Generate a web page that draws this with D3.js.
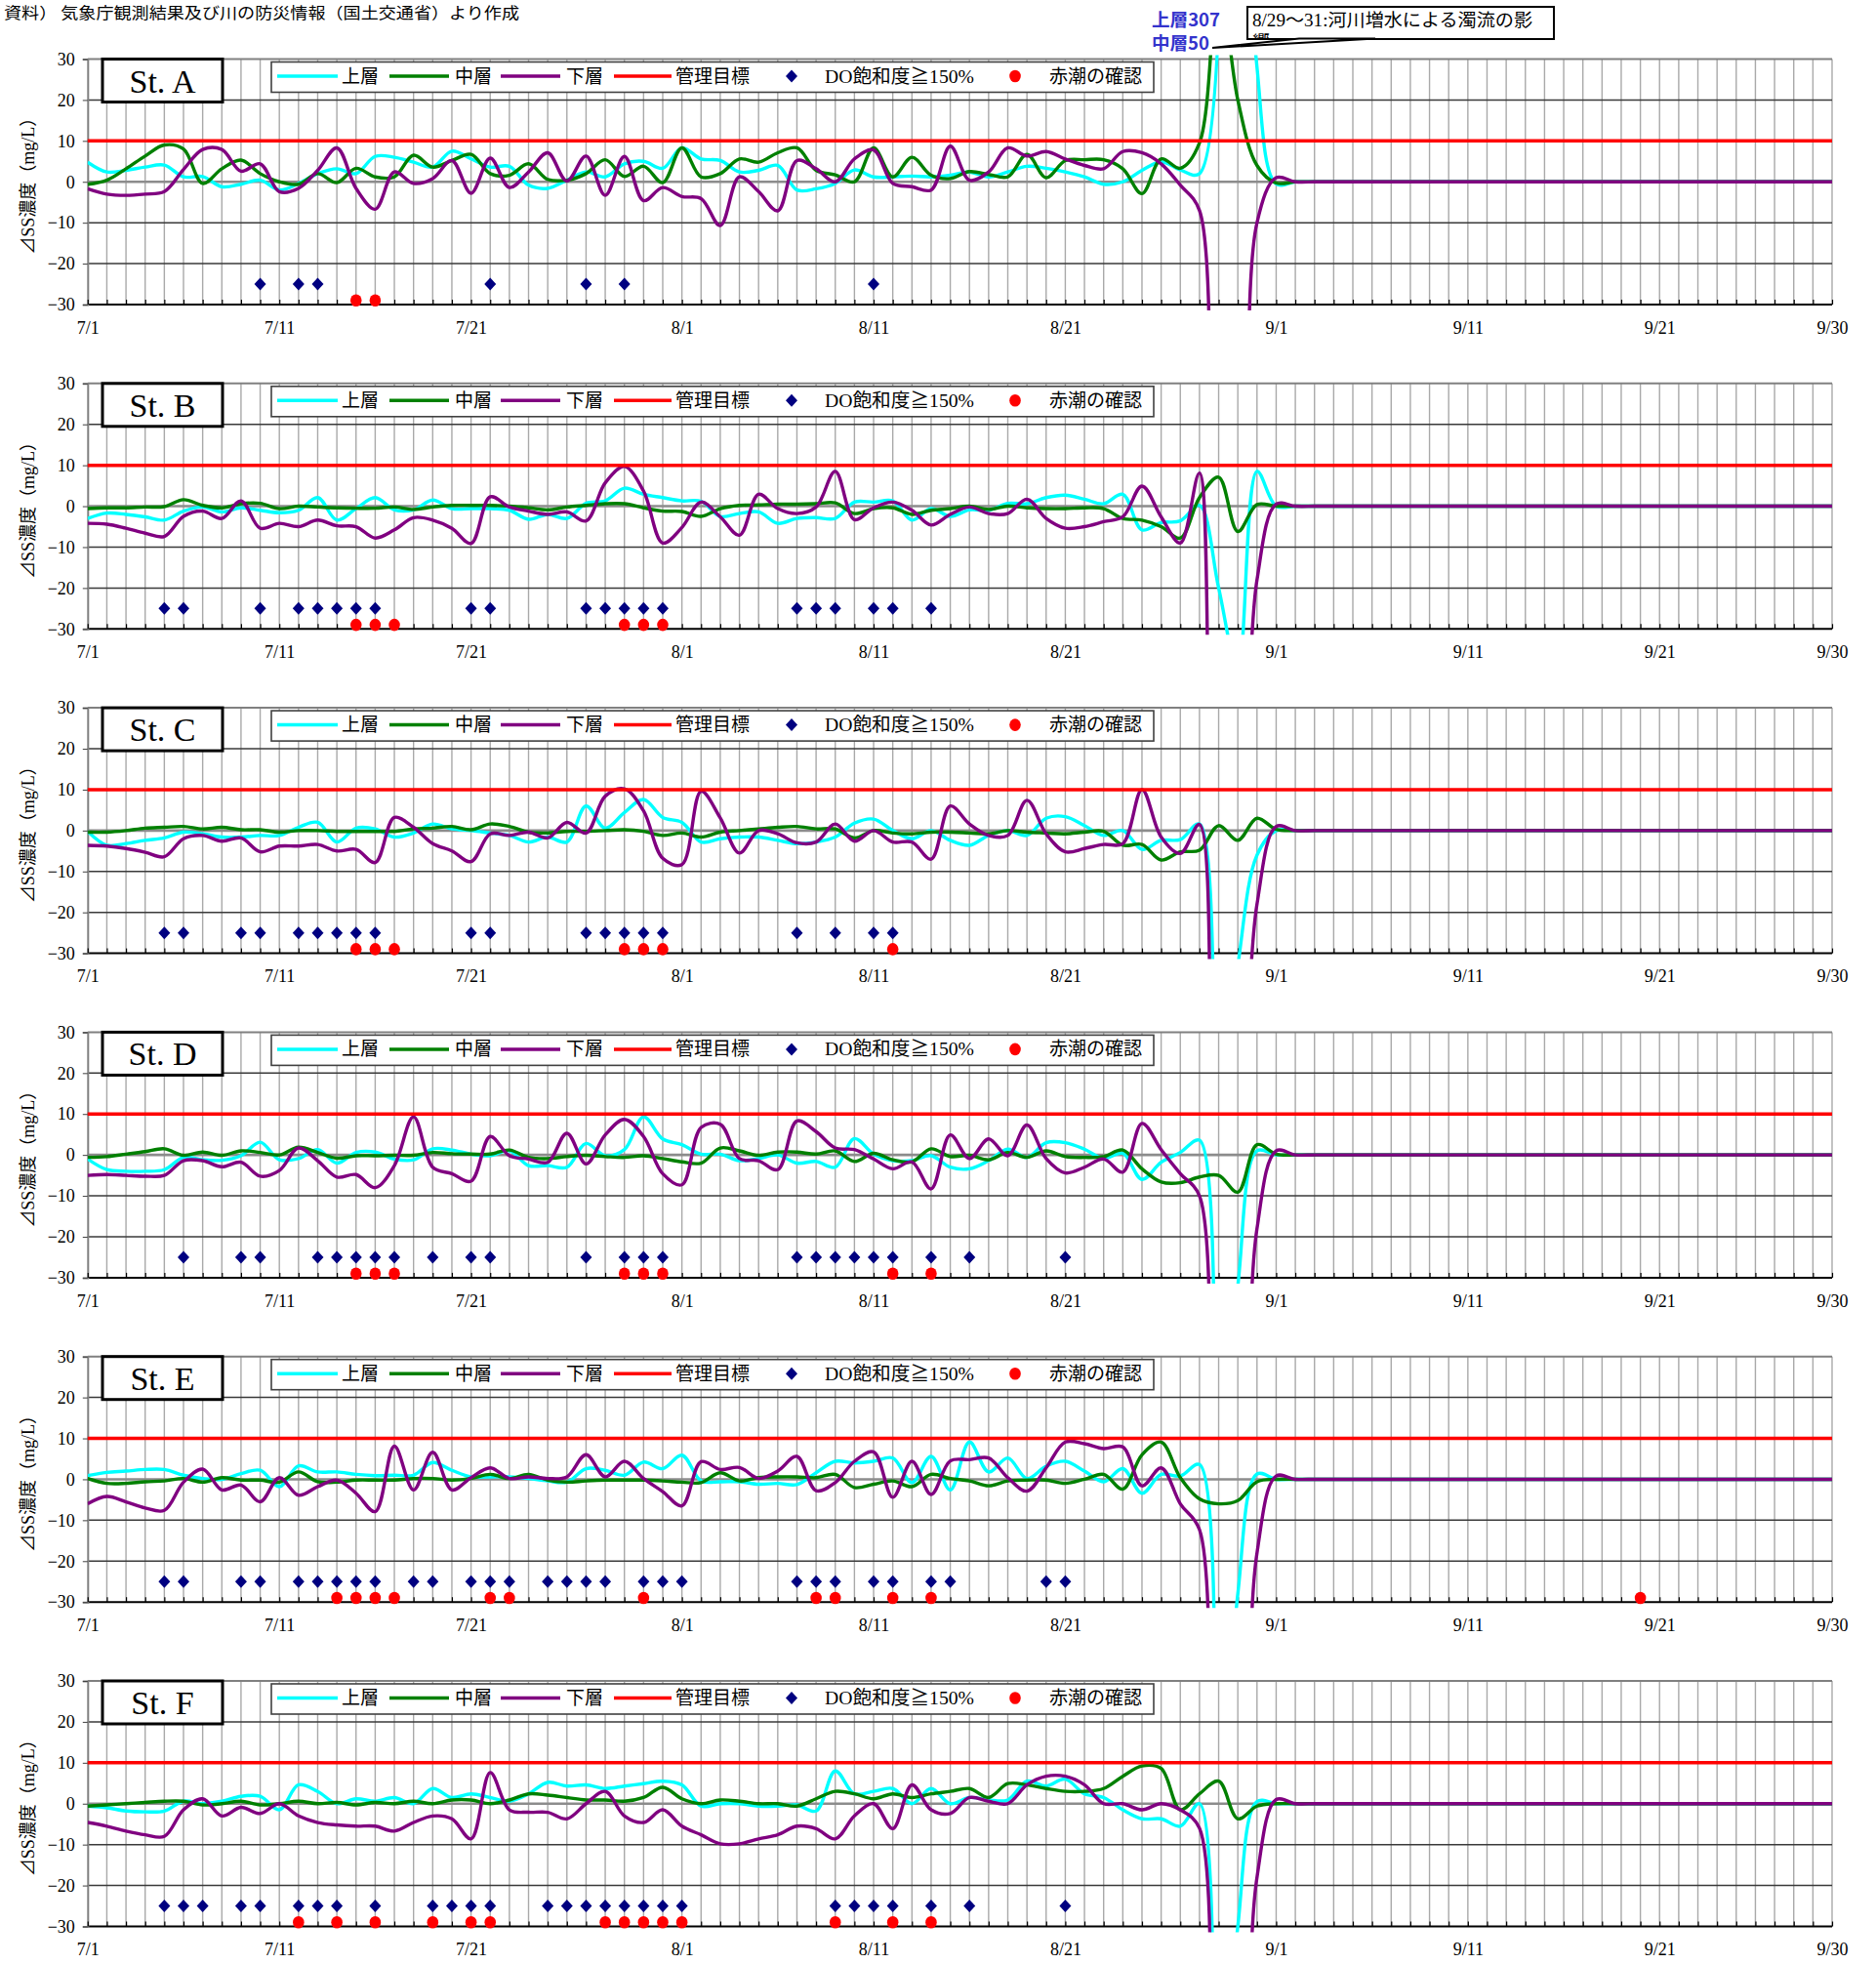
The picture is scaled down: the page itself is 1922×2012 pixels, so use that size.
<!DOCTYPE html>
<html>
<head>
<meta charset="utf-8">
<script src="https://cdn.jsdelivr.net/npm/d3@7"></script>
<style>
  body { margin: 0; background: #fff; }
  svg { display: block; }
</style>
</head>
<body>
<div id="chart"></div>
<script>
// days 0..91 = 7/1 .. 9/30
const tickDays = [0, 10, 20, 31, 41, 51, 62, 72, 82, 91];
const tickLabels = ["7/1", "7/11", "7/21", "8/1", "8/11", "8/21", "9/1", "9/11", "9/21", "9/30"];
const yTicks = [-30, -20, -10, 0, 10, 20, 30];
const stationNames = ["St. A", "St. B", "St. C", "St. D", "St. E", "St. F"];
const seriesNames = ["上層", "中層", "下層"];
const targetValue = 10;
const doValue = -25;
const redTideValue = -29;

// ⊿SS (mg/L), one value per day
const stA_upper = [4.8,2.4,2.8,3.6,4.1,1.2,1.3,-1.2,-0.6,0.4,-2,-0.4,2,3.2,2,6.2,6,4.8,3.6,7.5,5.6,3.6,3.8,-0.8,-1.6,0.4,2.4,1.2,4.4,5,3.3,8.3,5.6,5.2,2.4,2.8,4,-2,-1.7,-0.4,2.9,1.2,1.2,1.4,1.2,1.6,2.4,1.2,2.4,3.8,3.3,2.4,1.2,-0.6,0,2.8,4.9,2.9,2,307,150,28,-0.5,0,0,0,0,0,0,0,0,0,0,0,0,0,0,0,0,0,0,0,0,0,0,0,0,0,0,0,0,0];
const stA_mid = [-0.6,0.4,3.2,6.3,9,8,-0.4,3.2,5.3,2,0,-0.6,2,-0.2,3.3,1.2,1.2,6.5,3.6,5.2,6.7,2,1.6,4.4,0.6,0.4,2,5.4,1.3,3.8,-0.2,8.3,1.2,2,5.6,4.8,7.1,8.3,2.8,1.7,0,8.3,1.2,6,1.6,0.8,2.5,1.8,1.2,6.7,1,5.2,5.4,5.4,3.2,-2.9,5.6,3.3,9.5,50,20,4,-0.3,0,0,0,0,0,0,0,0,0,0,0,0,0,0,0,0,0,0,0,0,0,0,0,0,0,0,0,0,0];
const stA_low = [-1.7,-3,-3.3,-3,-2.4,3,7.9,7.9,2.6,4.4,-2.4,-1.6,2.8,8.3,-1.6,-6.7,2.4,-0.4,0.8,5.2,-2.8,5.8,-1.4,2.4,7.1,0.2,6.3,-3.3,6.2,-4.6,-1.4,-3.6,-4.1,-10.7,1.2,-2.4,-7.1,5.2,3.2,0,5.6,7.8,-0.4,-1.2,-2,8.7,0.4,2.4,8.3,6.3,7.4,5.6,4,3.2,7.4,7.1,4.4,-0.8,-7,-100,-90,-10,1,0,0,0,0,0,0,0,0,0,0,0,0,0,0,0,0,0,0,0,0,0,0,0,0,0,0,0,0,0];

const stB_upper = [-3,-1.7,-2,-2.6,-3.4,-1.2,-0.2,-1.4,-0.4,-1,-1.6,-1,2.1,-3.4,-0.6,2.1,-0.9,-0.9,1.5,-0.6,-0.6,-0.6,-1,-3.2,-2,-3,0.7,1.3,4.4,2.9,2.1,1.3,1.2,-2.5,-1.8,-1.4,-4.2,-3,-2.8,-3,1,1,1.3,-3.4,-0.6,-2.5,-0.9,-1,0.7,0.6,2.1,2.7,1.7,0.6,2.9,-5.8,-4,-3.6,0.2,-20,-40,8.5,0,0,0,0,0,0,0,0,0,0,0,0,0,0,0,0,0,0,0,0,0,0,0,0,0,0,0,0,0,0];
const stB_mid = [-0.6,-0.4,-0.4,-0.2,-0.1,1.6,0.2,-0.4,0.6,0.7,-0.6,0,-0.2,-0.4,-0.5,-0.5,-0.2,-0.8,-0.2,0.2,0.2,0.2,0,-0.4,-0.9,-0.2,0.2,0.6,0.6,-0.4,-1.2,-1.3,-2.5,-0.6,0.2,0.3,0.5,0.5,0.6,0.8,-1.8,-0.6,-0.4,-2,-1,-0.6,0,-0.8,0,-0.4,-0.6,-0.6,-0.4,-0.6,-3,-3.4,-5,-7.8,2.1,7.1,-6.2,0.4,0,0,0,0,0,0,0,0,0,0,0,0,0,0,0,0,0,0,0,0,0,0,0,0,0,0,0,0,0,0];
const stB_low = [-4.2,-4.4,-5.4,-6.6,-7.4,-2.5,-1.2,-3,1.3,-5.4,-4.2,-5,-3.4,-4.8,-5,-7.8,-5.8,-2.8,-3.4,-5.4,-9.1,2.3,-0.2,-1.2,-2,-1.4,-3.6,5.7,9.7,3.7,-9,-5.2,1,-2.6,-7.1,2.9,-0.6,-1.8,-0.2,8.5,-3.3,-0.4,1,-1,-4.6,-2,-0.2,-1.8,-1.8,1.7,-3,-5.4,-5,-3.8,-2.6,4.9,-2.6,-9,8.1,-90,-80,-18,0.5,0,0,0,0,0,0,0,0,0,0,0,0,0,0,0,0,0,0,0,0,0,0,0,0,0,0,0,0,0];

const stC_upper = [-0.2,-3.6,-3.2,-2.4,-1.8,-0.4,-0.8,-1.6,-1.6,-1.2,-1.2,0.8,2,-2.8,0.6,0.4,-1.6,-0.6,1.6,0.4,0,-0.6,-1.2,-2.8,-1.6,-2.8,6,0.6,4.4,7.6,3.2,2,-2.8,-2,-1.6,-1.6,-2.4,-3.2,-2.8,-1.6,1.8,2.8,0,-2,0,-2.4,-3.6,-1.2,0,-1.2,3,3.4,1.2,-1.2,0,-4.6,-2.4,-2.2,1.6,-70,-33,-6,0,0,0,0,0,0,0,0,0,0,0,0,0,0,0,0,0,0,0,0,0,0,0,0,0,0,0,0,0,0];
const stC_mid = [-0.4,-0.4,0,0.6,0.8,1,0.4,0.8,0.2,0.2,-0.4,0,0,-0.2,-0.2,-0.2,-0.2,0.4,0.6,1,0.2,1.6,1,-0.4,-0.6,-0.2,-0.2,0,0.2,-0.2,-1.2,-0.6,-1.6,-0.4,0,0.4,0.8,1,0.4,0.4,-1.8,0,-0.6,-0.8,-0.4,-0.4,-0.6,-0.8,0,-0.4,-0.6,-0.8,-0.4,-0.2,-3.6,-3.4,-7.2,-5.2,-4.8,1.2,-2.4,3,0.3,0,0,0,0,0,0,0,0,0,0,0,0,0,0,0,0,0,0,0,0,0,0,0,0,0,0,0,0,0];
const stC_low = [-3.6,-3.8,-4.4,-5.3,-6.4,-2,-1.2,-2.6,-1.8,-5.2,-3.8,-3.8,-3.4,-5,-4.6,-7.8,3.2,0.8,-3.2,-5,-7.6,-0.8,-1.2,-0.4,-1.8,2,-0.6,8.4,10.2,4.8,-6.8,-8.3,9.6,3.1,-5.5,0,-0.8,-3,-2.8,1.6,-2.6,0,-2.8,-2.8,-7,6,1.6,-1.2,-1.2,7.4,-0.8,-5.2,-4.4,-3.4,-3.2,10,-1.6,-5.6,1.5,-80,-70,-18,1,0,0,0,0,0,0,0,0,0,0,0,0,0,0,0,0,0,0,0,0,0,0,0,0,0,0,0,0,0];

const stD_upper = [-1,-3.6,-4,-4,-3.6,-0.6,-1.2,-1.3,-0.2,3.1,-1.2,-0.9,1.3,-2,0.6,0.7,-1,-1.2,1.5,1.2,0.2,-0.2,1,-2.6,-2.6,-3,2.8,-0.2,1.3,9.3,3.9,2.5,0.2,0.2,-1.4,-0.9,0,-2,-1.6,-3,4,0.2,-1.4,-1.4,-0.2,-3,-3.4,-1.4,1.4,-0.6,3,3,1.4,-0.9,0.4,-6,-1.8,0.6,3.6,-80,-32,1,0,0,0,0,0,0,0,0,0,0,0,0,0,0,0,0,0,0,0,0,0,0,0,0,0,0,0,0,0,0];
const stD_mid = [-0.6,-0.4,0.2,0.8,1.5,-0.1,0.7,-0.1,1,0.6,0,1.9,0.6,-0.8,-0.2,-0.2,-0.1,-0.1,0.6,0.3,0.2,0.2,1.2,-0.6,-0.9,-0.4,-0.1,-0.4,-0.6,-0.2,-0.9,-1.7,-2,1.7,1,-0.1,0.7,0.7,0.2,1,-1.6,0.4,-1.2,-1.7,1.5,-0.4,-0.1,-1.2,0.6,-0.6,1,-0.4,-0.6,-0.4,1.2,-3.4,-6.6,-6.8,-5.4,-5,-9.1,2.5,0.2,0,0,0,0,0,0,0,0,0,0,0,0,0,0,0,0,0,0,0,0,0,0,0,0,0,0,0,0,0];
const stD_low = [-5,-4.8,-5,-5.2,-5,-1.4,-1.4,-2.9,-1.8,-5.2,-3.8,1.7,-1.4,-5.4,-4.8,-8,-2.6,9.3,-3,-4.6,-6.4,4.5,-0.2,-1,-1.8,5.3,-2.2,4.9,8.7,4.5,-4.6,-7.3,6.7,7.5,-0.9,-1.4,-3.6,8.3,5.7,1.7,1.3,-1,-3.4,-1.7,-8.3,4.9,-0.9,3.9,-0.2,7.3,-0.9,-4.4,-3,-1,-4.2,7.7,1.3,-4.6,-10,-100,-90,-18,1,0,0,0,0,0,0,0,0,0,0,0,0,0,0,0,0,0,0,0,0,0,0,0,0,0,0,0,0,0];

const stE_upper = [0.9,1.7,2,2.4,2.4,1,0.2,0,1.4,2.2,-1.8,3.3,1.8,1.8,1.2,0.9,1,1,4.1,2.2,0.6,0.6,0.6,0.2,-0.4,-0.7,2.6,2.2,1,4.2,2.6,5.9,-0.4,-0.6,-0.6,-1.2,-1,-1.3,1.6,4.4,4,4.4,5.2,-0.8,5.6,-2.6,9.1,1.8,5.2,0.2,3.2,4.4,2,-0.6,2.6,-3.4,1.2,0.8,3.6,-90,-28,1.3,0,0,0,0,0,0,0,0,0,0,0,0,0,0,0,0,0,0,0,0,0,0,0,0,0,0,0,0,0,0];
const stE_mid = [0.2,-1,-1,-0.6,-0.4,0.2,-0.7,0.4,-0.2,-0.2,-0.7,1.8,-0.6,-0.7,-0.2,-0.2,-0.2,0.2,0.2,-0.2,0.2,1.2,0.2,1.2,-0.2,-0.7,-0.4,-0.2,-0.2,-0.2,-0.4,-0.7,-0.8,1.6,-0.4,0.4,0.6,0.6,0.4,1.2,-2,-1.2,-0.4,-1.8,1.2,0.2,-0.4,-1.6,-0.4,-0.2,-0.2,-1,0,1.2,-2.4,6,9.1,0.4,-4.8,-6,-5.2,-0.6,0,0,0,0,0,0,0,0,0,0,0,0,0,0,0,0,0,0,0,0,0,0,0,0,0,0,0,0,0,0];
const stE_low = [-6,-4.2,-5.5,-7,-7.6,-0.7,2.5,-2.6,-1.4,-5.5,0.4,-3.9,-1.8,-0.2,-3.4,-7.9,8.1,-2.6,6.6,-2.6,0.4,2.8,0.2,0.6,0.2,0.6,6,0.6,4.4,0.2,-3,-6.5,4.3,2.4,2.9,0.2,2,5.6,-2.8,-0.8,4.4,6.7,-4.4,4.4,-3.7,4.5,4.8,5.2,0.4,-2.9,2.8,9.1,8.7,7.5,7.9,-1.6,2.8,-6,-12.3,-100,-90,-18,0.8,0,0,0,0,0,0,0,0,0,0,0,0,0,0,0,0,0,0,0,0,0,0,0,0,0,0,0,0,0];

const stF_upper = [-0.6,-1,-1.8,-2,-1.8,0.6,0,0.6,1.8,1.8,-1.5,4.6,3,0,1.2,0.6,1.5,0,3.7,1.5,2.4,1.5,0.6,2.4,5.2,4.3,4.6,3.7,4.3,4.9,5.5,4.6,-0.6,0,0,-0.6,-0.6,-0.3,-1.8,8,2.4,3,3.7,0,3.7,0,1.5,0.9,0.9,5.5,4.3,6,2.4,1.5,-1.5,-3.7,-3.7,-5.5,0,-90,-30,0.5,0,0,0,0,0,0,0,0,0,0,0,0,0,0,0,0,0,0,0,0,0,0,0,0,0,0,0,0,0,0];
const stF_mid = [-0.6,-0.3,0,0.3,0.6,0.6,-0.3,0,0.6,-0.3,0,0.6,0,0.3,-0.3,0.3,0,0.6,0,0.9,0.9,0,0.9,2.4,2.1,1.5,0.9,0.9,0.6,1.5,4,1.2,0,0.9,0.6,0,0,-0.6,1.2,3,2.4,1.2,2.4,1.5,2.4,3,3.7,1.5,4.9,4.6,3.7,3,3,3.7,6.7,9.2,8.6,-1.5,2.4,5.5,-3.7,-0.6,0,0,0,0,0,0,0,0,0,0,0,0,0,0,0,0,0,0,0,0,0,0,0,0,0,0,0,0,0,0];
const stF_low = [-4.6,-5.5,-6.7,-7.6,-8,-1.5,1.2,-3,-0.9,-2.4,0,-3,-4.6,-5.2,-5.5,-5.5,-6.7,-4.6,-3,-3.7,-8.6,7.6,-1.5,-2.1,-2.1,-3.7,0,3,-3,-4.6,-1.5,-5.5,-7.6,-9.8,-9.8,-8.6,-7.6,-5.5,-6.1,-8.6,-3,0,-6.1,4.6,-1.5,-2.4,1.5,0.6,0,4.6,6.7,6.7,4.6,0,0,-1.5,0,-1.5,-6,-100,-90,-18,1,0,0,0,0,0,0,0,0,0,0,0,0,0,0,0,0,0,0,0,0,0,0,0,0,0,0,0,0,0];

// days with DO saturation >= 150% and with red tide confirmed
const stA_do = [9,11,12,21,26,28,41];
const stA_red = [14,15];
const stB_do = [4,5,9,11,12,13,14,15,20,21,26,27,28,29,30,37,38,39,41,42,44];
const stB_red = [14,15,16,28,29,30];
const stC_do = [4,5,8,9,11,12,13,14,15,20,21,26,27,28,29,30,37,39,41,42];
const stC_red = [14,15,16,28,29,30,42];
const stD_do = [5,8,9,12,13,14,15,16,18,20,21,26,28,29,30,37,38,39,40,41,42,44,46,51];
const stD_red = [14,15,16,28,29,30,42,44];
const stE_do = [4,5,8,9,11,12,13,14,15,17,18,20,21,22,24,25,26,27,29,30,31,37,38,39,41,42,44,45,50,51];
const stE_red = [13,14,15,16,21,22,29,38,39,42,44,81];
const stF_do = [4,5,6,8,9,11,12,13,15,18,19,20,21,24,25,26,27,28,29,30,31,39,40,41,42,44,46,51];
const stF_red = [11,13,15,18,20,21,27,28,29,30,31,39,42,44];

const stations = [
  { name: stationNames[0], series: [stA_upper, stA_mid, stA_low], doDays: stA_do, redDays: stA_red },
  { name: stationNames[1], series: [stB_upper, stB_mid, stB_low], doDays: stB_do, redDays: stB_red },
  { name: stationNames[2], series: [stC_upper, stC_mid, stC_low], doDays: stC_do, redDays: stC_red },
  { name: stationNames[3], series: [stD_upper, stD_mid, stD_low], doDays: stD_do, redDays: stD_red },
  { name: stationNames[4], series: [stE_upper, stE_mid, stE_low], doDays: stE_do, redDays: stE_red },
  { name: stationNames[5], series: [stF_upper, stF_mid, stF_low], doDays: stF_do, redDays: stF_red }
];

const W = 1922, H = 2012;
const left = 89.8, right = 1877;
const firstTop = 60.5, panelStep = 332.3, plotH = 251.5;
const lineColors = ["#00FFFF", "#008000", "#800080"];
const serif = "'Liberation Serif','Noto Sans CJK JP',serif";
const gothic = "'Noto Sans CJK JP','Noto Sans',sans-serif";
const diamondPath = "M0,-6.5L6,0L0,6.5L-6,0Z";

const svg = d3.select("#chart").append("svg")
  .attr("width", W).attr("height", H)
  .style("font-family", serif);

const x = d3.scaleLinear().domain([0, 91]).range([left, right]);
const allDays = d3.range(0, 92);

svg.append("text")
  .attr("x", 4).attr("y", 19)
  .attr("font-family", gothic).attr("font-size", 16)
  .attr("textLength", 528).attr("lengthAdjust", "spacingAndGlyphs")
  .text("資料） 気象庁観測結果及び川の防災情報（国土交通省）より作成");

stations.forEach((st, i) => {
  const top = firstTop + i * panelStep;
  const bottom = top + plotH;
  const y = d3.scaleLinear().domain([-30, 30]).range([bottom, top]);
  const g = svg.append("g");

  // daily vertical grid
  g.selectAll(".vgrid").data(allDays.slice(1)).join("line")
    .attr("x1", d => x(d)).attr("x2", d => x(d))
    .attr("y1", top).attr("y2", bottom)
    .attr("stroke", "#a9a9a9").attr("stroke-width", 1.4);

  // horizontal grid
  g.selectAll(".hgrid").data(yTicks).join("line")
    .attr("x1", left).attr("x2", right)
    .attr("y1", d => y(d)).attr("y2", d => y(d))
    .attr("stroke", d => d === 0 ? "#8c8c8c" : d === 30 ? "#808080" : d === -30 ? "#000" : "#3a3a3a")
    .attr("stroke-width", d => d === 0 ? 2.6 : d === 30 ? 2 : d === -30 ? 2 : 1.5);

  // y axis
  const yAxis = g.append("g").attr("transform", `translate(${left},0)`)
    .call(d3.axisLeft(y).tickValues(yTicks).tickSize(5).tickPadding(8).tickFormat(d3.format("d")));
  yAxis.select(".domain").attr("stroke", "#808080").attr("stroke-width", 2);
  yAxis.selectAll(".tick line").attr("stroke", "#404040");
  yAxis.selectAll("text").attr("font-size", 18).attr("font-family", serif).attr("fill", "#000");

  // small day ticks on the bottom axis
  const dayAxis = g.append("g").attr("transform", `translate(0,${bottom})`)
    .call(d3.axisBottom(x).tickValues(allDays).tickSize(-5).tickFormat(""));
  dayAxis.select(".domain").remove();
  dayAxis.selectAll(".tick line").attr("stroke", "#000").attr("stroke-width", 1.2);

  // date labels
  const xAxis = g.append("g").attr("transform", `translate(0,${bottom})`)
    .call(d3.axisBottom(x).tickValues(tickDays).tickSize(0).tickPadding(17)
      .tickFormat((d, k) => tickLabels[k]));
  xAxis.select(".domain").remove();
  xAxis.selectAll("text").attr("font-size", 18).attr("font-family", serif).attr("fill", "#000");

  // y title
  g.append("text")
    .attr("transform", `translate(35,${top + plotH / 2}) rotate(-90)`)
    .attr("text-anchor", "middle")
    .attr("font-size", 18)
    .text("⊿SS濃度（mg/L）");

  // data lines, clipped a little beyond the plot area
  const clipId = "clip" + i;
  svg.append("clipPath").attr("id", clipId)
    .append("rect").attr("x", left).attr("y", top - 4).attr("width", right - left).attr("height", plotH + 10);

  const line = d3.line()
    .x((d, k) => x(k))
    .y(d => y(d))
    .curve(d3.curveCatmullRom.alpha(0.5));

  const lines = svg.append("g").attr("clip-path", `url(#${clipId})`);
  st.series.forEach((s, k) => {
    lines.append("path")
      .datum(s)
      .attr("d", line)
      .attr("fill", "none")
      .attr("stroke", lineColors[k])
      .attr("stroke-width", 3.4)
      .attr("stroke-linejoin", "round");
  });

  // management target
  svg.append("line")
    .attr("x1", left).attr("x2", right)
    .attr("y1", y(targetValue)).attr("y2", y(targetValue))
    .attr("stroke", "#FF0000").attr("stroke-width", 3.5);

  // markers
  svg.append("g").selectAll("path").data(st.doDays).join("path")
    .attr("d", diamondPath)
    .attr("transform", d => `translate(${x(d)},${y(doValue)})`)
    .attr("fill", "#000080");
  svg.append("g").selectAll("ellipse").data(st.redDays).join("ellipse")
    .attr("cx", d => x(d)).attr("cy", y(redTideValue))
    .attr("rx", 5.8).attr("ry", 6.3)
    .attr("fill", "#FF0000");

  // station box
  svg.append("rect")
    .attr("x", 105).attr("y", top).attr("width", 123).attr("height", 44)
    .attr("fill", "#fff").attr("stroke", "#000").attr("stroke-width", 3);
  svg.append("text")
    .attr("x", 166.5).attr("y", top + 34)
    .attr("text-anchor", "middle")
    .attr("font-size", 34)
    .text(st.name);

  // legend
  const lg = svg.append("g").attr("transform", `translate(0,${top})`);
  lg.append("rect")
    .attr("x", 278).attr("y", 3).attr("width", 904).attr("height", 31)
    .attr("fill", "#fff").attr("stroke", "#404040").attr("stroke-width", 1.6);
  const ly = 17.5;
  const legendLines = [
    { x1: 284, x2: 346, color: lineColors[0], label: seriesNames[0], tx: 350 },
    { x1: 399, x2: 460, color: lineColors[1], label: seriesNames[1], tx: 466 },
    { x1: 513, x2: 574, color: lineColors[2], label: seriesNames[2], tx: 580 },
    { x1: 629, x2: 688, color: "#FF0000", label: "管理目標", tx: 692 }
  ];
  legendLines.forEach(l => {
    lg.append("line").attr("x1", l.x1).attr("x2", l.x2).attr("y1", ly).attr("y2", ly)
      .attr("stroke", l.color).attr("stroke-width", 3.5);
    lg.append("text").attr("x", l.tx).attr("y", ly + 6.5).attr("font-size", 19).text(l.label);
  });
  lg.append("path").attr("d", diamondPath).attr("transform", `translate(811,${ly})`).attr("fill", "#000080");
  lg.append("text").attr("x", 845).attr("y", ly + 6.5).attr("font-size", 19)
    .attr("textLength", 153).attr("lengthAdjust", "spacingAndGlyphs").text("DO飽和度≧150%");
  lg.append("ellipse").attr("cx", 1040).attr("cy", ly).attr("rx", 5.8).attr("ry", 6.3).attr("fill", "#FF0000");
  lg.append("text").attr("x", 1075).attr("y", ly + 6.5).attr("font-size", 19).text("赤潮の確認");
});

// notes over St. A
svg.append("text")
  .attr("x", 1180).attr("y", 27)
  .attr("font-family", gothic).attr("font-weight", "bold").attr("font-size", 18)
  .attr("fill", "#3333CC")
  .attr("textLength", 70).attr("lengthAdjust", "spacingAndGlyphs")
  .text("上層307");
svg.append("text")
  .attr("x", 1180).attr("y", 51)
  .attr("font-family", gothic).attr("font-weight", "bold").attr("font-size", 18)
  .attr("fill", "#3333CC")
  .attr("textLength", 59).attr("lengthAdjust", "spacingAndGlyphs")
  .text("中層50");

svg.append("clipPath").attr("id", "calloutClip")
  .append("rect").attr("x", 1278).attr("y", 7).attr("width", 314).attr("height", 33);
svg.append("rect")
  .attr("x", 1278).attr("y", 7).attr("width", 314).attr("height", 33)
  .attr("fill", "#fff").attr("stroke", "#000").attr("stroke-width", 2);
svg.append("polygon")
  .attr("points", "1242,49 1331,39.5 1409,39.5")
  .attr("fill", "#fff").attr("stroke", "#000").attr("stroke-width", 2)
  .attr("stroke-linejoin", "miter");
const callout = svg.append("g").attr("clip-path", "url(#calloutClip)");
callout.append("text")
  .attr("x", 1283).attr("y", 27).attr("font-size", 18)
  .attr("textLength", 287).attr("lengthAdjust", "spacingAndGlyphs")
  .text("8/29～31:河川増水による濁流の影");
callout.append("text")
  .attr("x", 1283).attr("y", 50).attr("font-size", 18)
  .text("響");
</script>
</body>
</html>
